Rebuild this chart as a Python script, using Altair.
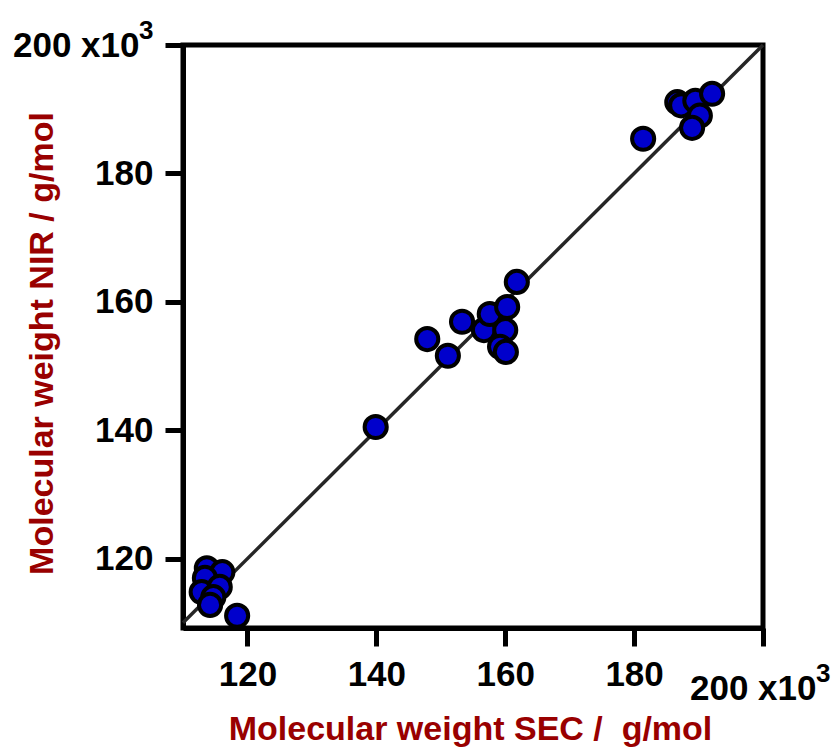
import altair as alt
import pandas as pd

# Data (x = SEC, y = NIR, in 10^3 g/mol)
sec = [113.7, 116.1, 113.4, 112.9, 115.7, 114.7, 114.2, 118.4,
       139.9,
       147.9, 151.1, 153.3, 156.7, 157.6, 160.3, 160.0, 159.2, 160.1, 161.8,
       181.4, 186.7, 187.3, 189.5, 190.2, 189.0, 192.1]
nir = [118.5, 117.9, 117.0, 114.8, 115.6, 114.0, 112.8, 111.1,
       140.5,
       154.2, 151.6, 156.9, 155.6, 158.1, 159.2, 155.6, 153.0, 152.2, 163.1,
       185.4, 191.1, 190.6, 191.3, 189.0, 187.1, 192.4]
line_x = [110, 200]
line_y = [110, 200]
tick_vals = [120, 140, 160, 180, 200]

pts = pd.DataFrame({"sec": sec, "nir": nir})
ln = pd.DataFrame({"sec": line_x, "nir": line_y})
one = pd.DataFrame({"a": [0]})

FONT = "Liberation Sans"
RED = "#990000"

xscale = alt.Scale(domain=[110, 200], nice=False, zero=False)
yscale = alt.Scale(domain=[109.2, 200], nice=False, zero=False)

xaxis = alt.Axis(
    values=tick_vals, grid=False, labelExpr="datum.value == 200 ? '' : datum.label",
    title="Molecular weight SEC / \u00a0g/mol", titleColor=RED, titleFont=FONT,
    titleFontSize=34, titleFontWeight="bold", titleX=287, titleY=111,
    titleBaseline="alphabetic", titleAlign="center",
    labelFont=FONT, labelFontSize=35, labelFontWeight="bold", labelColor="black",
    labelBaseline="alphabetic", labelPadding=39, labelFlush=False,
    tickSize=18, tickWidth=5, tickColor="black",
    domainColor="black", domainWidth=5,
)
yaxis = alt.Axis(
    values=tick_vals, grid=False, labelExpr="datum.value == 200 ? '' : datum.label",
    title="Molecular weight NIR / g/mol", titleColor=RED, titleFont=FONT,
    titleFontSize=34, titleFontWeight="bold", titleX=-131, titleY=298,
    titleBaseline="alphabetic", titleAlign="center", titleAngle=270,
    labelFont=FONT, labelFontSize=35, labelFontWeight="bold", labelColor="black",
    labelPadding=12, labelFlush=False,
    tickSize=18, tickWidth=5, tickColor="black",
    domainColor="black", domainWidth=5,
)

line = alt.Chart(ln).mark_line(color="#262626", strokeWidth=3.5).encode(
    x=alt.X("sec:Q", scale=xscale, axis=xaxis),
    y=alt.Y("nir:Q", scale=yscale, axis=yaxis),
)

points = alt.Chart(pts).mark_circle(
    size=490, color="#0000CC", opacity=1, stroke="black", strokeWidth=4
).encode(
    x=alt.X("sec:Q", scale=xscale),
    y=alt.Y("nir:Q", scale=yscale),
)

def txt(s, x, y, size):
    return alt.Chart(one).mark_text(
        text=s, font=FONT, fontSize=size, fontWeight="bold", color="black",
        align="left", baseline="alphabetic"
    ).encode(x=alt.value(x), y=alt.value(y))

chart = alt.layer(
    line, points,
    txt("200 x10", -170, 12, 35), txt("3", -44, -6, 26),
    txt("200 x10", 507, 655, 35), txt("3", 633, 637, 26),
).properties(
    width=580, height=583,
    autosize=alt.AutoSizeParams(type="none"),
    padding={"left": 175, "top": 37, "right": 69, "bottom": 120},
).configure_view(stroke="black", strokeWidth=5)

chart.save("out.html", embed_options={"renderer": "svg", "actions": False})
